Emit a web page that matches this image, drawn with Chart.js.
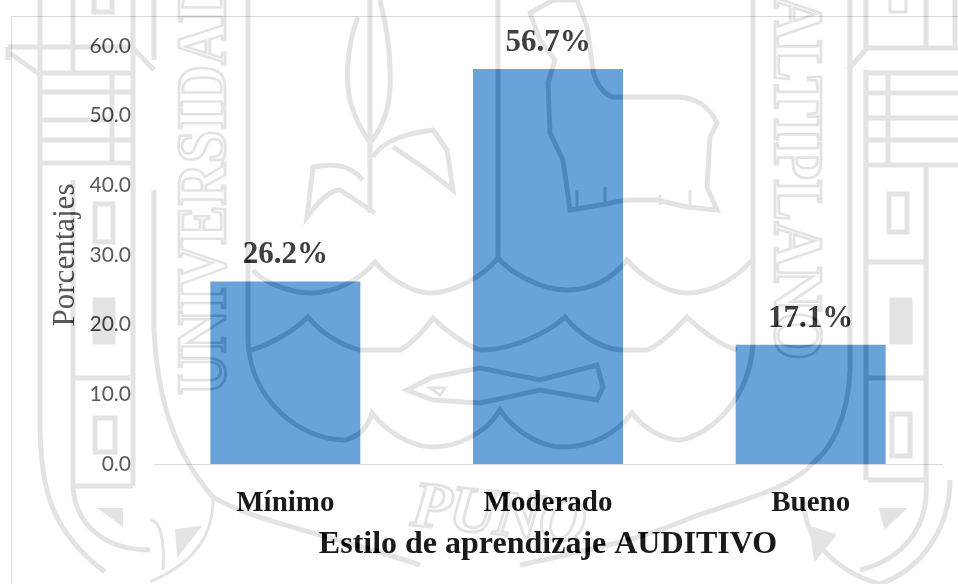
<!DOCTYPE html>
<html>
<head>
<meta charset="utf-8">
<title>Estilo de aprendizaje AUDITIVO</title>
<script src="https://cdn.jsdelivr.net/npm/chart.js@4"></script>
<style>
    html, body { margin: 0; padding: 0; background: #fff; }
    #wrap { position: relative; width: 958px; height: 584px; overflow: hidden; background: #fff; }
    #frame { position: absolute; left: 11px; top: 16px; right: 0; bottom: 0; border-left: 1px solid #d9d9d9; border-top: 1px solid #d9d9d9; }
    canvas { position: absolute; left: 0; top: 0; }
    /* difference with a dark grey takes the same amount off white and off the bars */
    #mark { position: absolute; left: 0; top: 0; mix-blend-mode: difference; pointer-events: none; }
    #mark path, #mark rect { fill: none; stroke: #1c1c1c; stroke-width: 5; }
    #mark .thin { stroke-width: 3; }
    #mark text { fill: none; stroke: #1c1c1c; stroke-width: 3; font-family: "Liberation Serif"; font-weight: bold; }
</style>
</head>
<body>
<div id="wrap">
    <div id="frame"></div>
    <canvas id="myChart" width="958" height="584"></canvas>
    <svg id="mark" width="958" height="584" viewBox="0 0 958 584">
        <!-- left tower -->
        <path d="M40 0V72M73 0V72M133 0V72M154 0V60M112 0V12H94V0"/>
        <path d="M8 47H132L154 70M8 47V60M8 52L38 73H135"/>
        <path d="M40 92H135M40 120H110M40 140H135M40 163H135M112 72V163"/>
        <path d="M40 72V430C42 490 50 530 105 572"/>
        <path d="M73 180V486C75 525 105 550 150 550M133 72V486M73 378H130M73 486H133"/>
        <path d="M154 190V330C158 410 180 460 213 497C250 520 330 535 420 565"/>
        <path d="M213 497C214 530 200 560 150 582M150 520C160 520 165 540 163 570" class="thin"/>
        <rect x="95" y="204" width="18" height="38"/>
        <rect x="95" y="418" width="20" height="34"/>
        <rect x="95" y="300" width="18" height="42" style="fill:#1c1c1c"/>
        <path d="M100 509H122V525ZM176 530L200 527L178 555Z" style="fill:#1c1c1c;stroke-width:2"/>
        <!-- right tower -->
        <path d="M850 0V70M866 0V48M926 0V48M955 0V48"/>
        <path d="M890 0V12H906V0" class="thin"/>
        <path d="M848 70L867 48H958M868 73H958M868 93H958M868 118H958M868 140H958M868 165H958M888 73V165"/>
        <path d="M866 70V480M926 165V480M868 262H925M868 378H925M868 480H925"/>
        <path d="M850 70V370C848 420 830 450 813 463C790 490 740 500 693 517C640 540 590 550 520 565"/>
        <rect x="889" y="194" width="18" height="38"/>
        <rect x="892" y="414" width="18" height="42"/>
        <rect x="892" y="300" width="18" height="42" style="fill:#1c1c1c"/>
        <path d="M805 500C800 530 830 570 880 584M926 480C930 530 900 560 860 570M950 480C950 530 920 570 880 584"/>
        <path d="M880 509H905L885 528ZM810 527L835 535L815 560Z" style="fill:#1c1c1c;stroke-width:2"/>
        <!-- shield -->
        <path d="M248 0V340C250 400 300 440 345 440C365 435 370 420 372 413C385 430 410 447 433 447C455 447 485 435 500 410C510 425 535 447 563 447C590 447 615 435 632 413C645 430 665 440 680 440C710 435 750 400 753 343V0"/>
        <path d="M498 0V258"/>
        <path d="M253 270C265 285 295 293 310 293C335 293 360 280 375 262C385 275 410 293 430 293C450 293 480 280 498 258C510 272 540 290 567 290C590 290 612 280 627 260C640 275 665 293 687 293C710 293 735 280 752 260"/>
        <path d="M251 350C270 345 295 330 308 317C320 332 340 345 360 350H400C410 345 425 330 433 318C445 330 465 345 480 350C510 350 545 335 565 317C580 335 600 348 620 350H647C660 345 675 330 687 317C700 330 720 345 737 350"/>
        <!-- fish -->
        <path d="M407 390L433 377L480 368L540 380L597 365L603 387L597 400L540 390L480 403L433 400Z"/>
        <path d="M430 388H445L440 395Z" class="thin"/>
        <!-- plant -->
        <path d="M370 0V213M358 17C345 50 345 90 353 110C358 125 365 135 370 143C385 125 392 100 390 70C390 45 385 20 380 0"/>
        <path d="M373 157C380 145 395 135 433 130L447 150L453 190L427 170L393 147"/>
        <path d="M363 180C350 165 335 163 313 167L307 217C320 200 330 190 340 190L375 213"/>
        <!-- llama -->
        <path d="M530 13L553 0H577L587 27L593 70C596 85 605 95 613 97H677C695 97 710 107 717 123L710 137L707 187L717 210L687 207L657 200L627 200L583 208L570 210L563 160L550 133L548 83L555 60L540 40Z"/>
        <path d="M577 190V207M605 187V207M660 195V205M690 190V207" class="thin"/>
        <!-- lettering -->
        <text transform="translate(225,395) rotate(-90)" font-size="70" textLength="415" lengthAdjust="spacingAndGlyphs">UNIVERSIDAD</text>
        <text transform="translate(775,-5) rotate(90)" font-size="70" textLength="365" lengthAdjust="spacingAndGlyphs">ALTIPLANO</text>
        <text transform="translate(410,525) rotate(6)" font-size="65" font-style="italic" textLength="175" lengthAdjust="spacing">PUNO</text>
    </svg>
</div>
<script>
const categories = ['Mínimo', 'Moderado', 'Bueno'];
const porcentajes = [26.2, 56.7, 17.1];
const yTickLabels = ['0.0', '10.0', '20.0', '30.0', '40.0', '50.0', '60.0'];

const serif = '"Liberation Serif", "Times New Roman", serif';

// Chart.js has no value labels of its own
const barLabels = {
    id: 'barLabels',
    afterDatasetsDraw(chart) {
        const ctx = chart.ctx;
        ctx.save();
        ctx.font = 'bold 31px ' + serif;
        ctx.fillStyle = '#404040';
        ctx.textAlign = 'center';
        ctx.textBaseline = 'alphabetic';
        chart.getDatasetMeta(0).data.forEach((bar, i) => {
            ctx.fillText(porcentajes[i].toFixed(1) + '%', bar.x, bar.y - 18);
        });
        ctx.restore();
    }
};

new Chart(document.getElementById('myChart'), {
    type: 'bar',
    data: {
        labels: categories,
        datasets: [{
            data: porcentajes,
            backgroundColor: '#6aa3d9',
            borderWidth: 0,
            barPercentage: 0.571,
            categoryPercentage: 1
        }]
    },
    options: {
        responsive: false,
        animation: false,
        layout: { padding: { top: 46, right: 16, left: 0, bottom: 0 } },
        plugins: { legend: { display: false }, tooltip: { enabled: false } },
        scales: {
            x: {
                afterFit: (scale) => { scale.height = 120; },
                grid: { display: false },
                border: { display: true, color: '#d9d9d9', width: 1 },
                ticks: {
                    color: '#1a1a1a',
                    font: { family: serif, size: 29, weight: 'bold' },
                    padding: 14,
                    maxRotation: 0
                },
                title: {
                    display: true,
                    text: 'Estilo de aprendizaje AUDITIVO',
                    color: '#1a1a1a',
                    font: { family: serif, size: 32, weight: 'bold' },
                    padding: { top: 0, bottom: 20 }
                }
            },
            y: {
                min: 0,
                max: 60,
                afterFit: (scale) => { scale.width = 154; },
                grid: { display: false, drawTicks: false },
                border: { display: false },
                ticks: {
                    stepSize: 10,
                    color: '#595959',
                    font: { family: 'Lato', size: 21 },
                    padding: 23,
                    callback: (value, index) => yTickLabels[index]
                },
                title: {
                    display: true,
                    text: 'Porcentajes',
                    color: '#595959',
                    font: { family: serif, size: 31, weight: 'normal' },
                    padding: { top: 47, bottom: 0 }
                }
            }
        }
    },
    plugins: [barLabels]
});
</script>
</body>
</html>
